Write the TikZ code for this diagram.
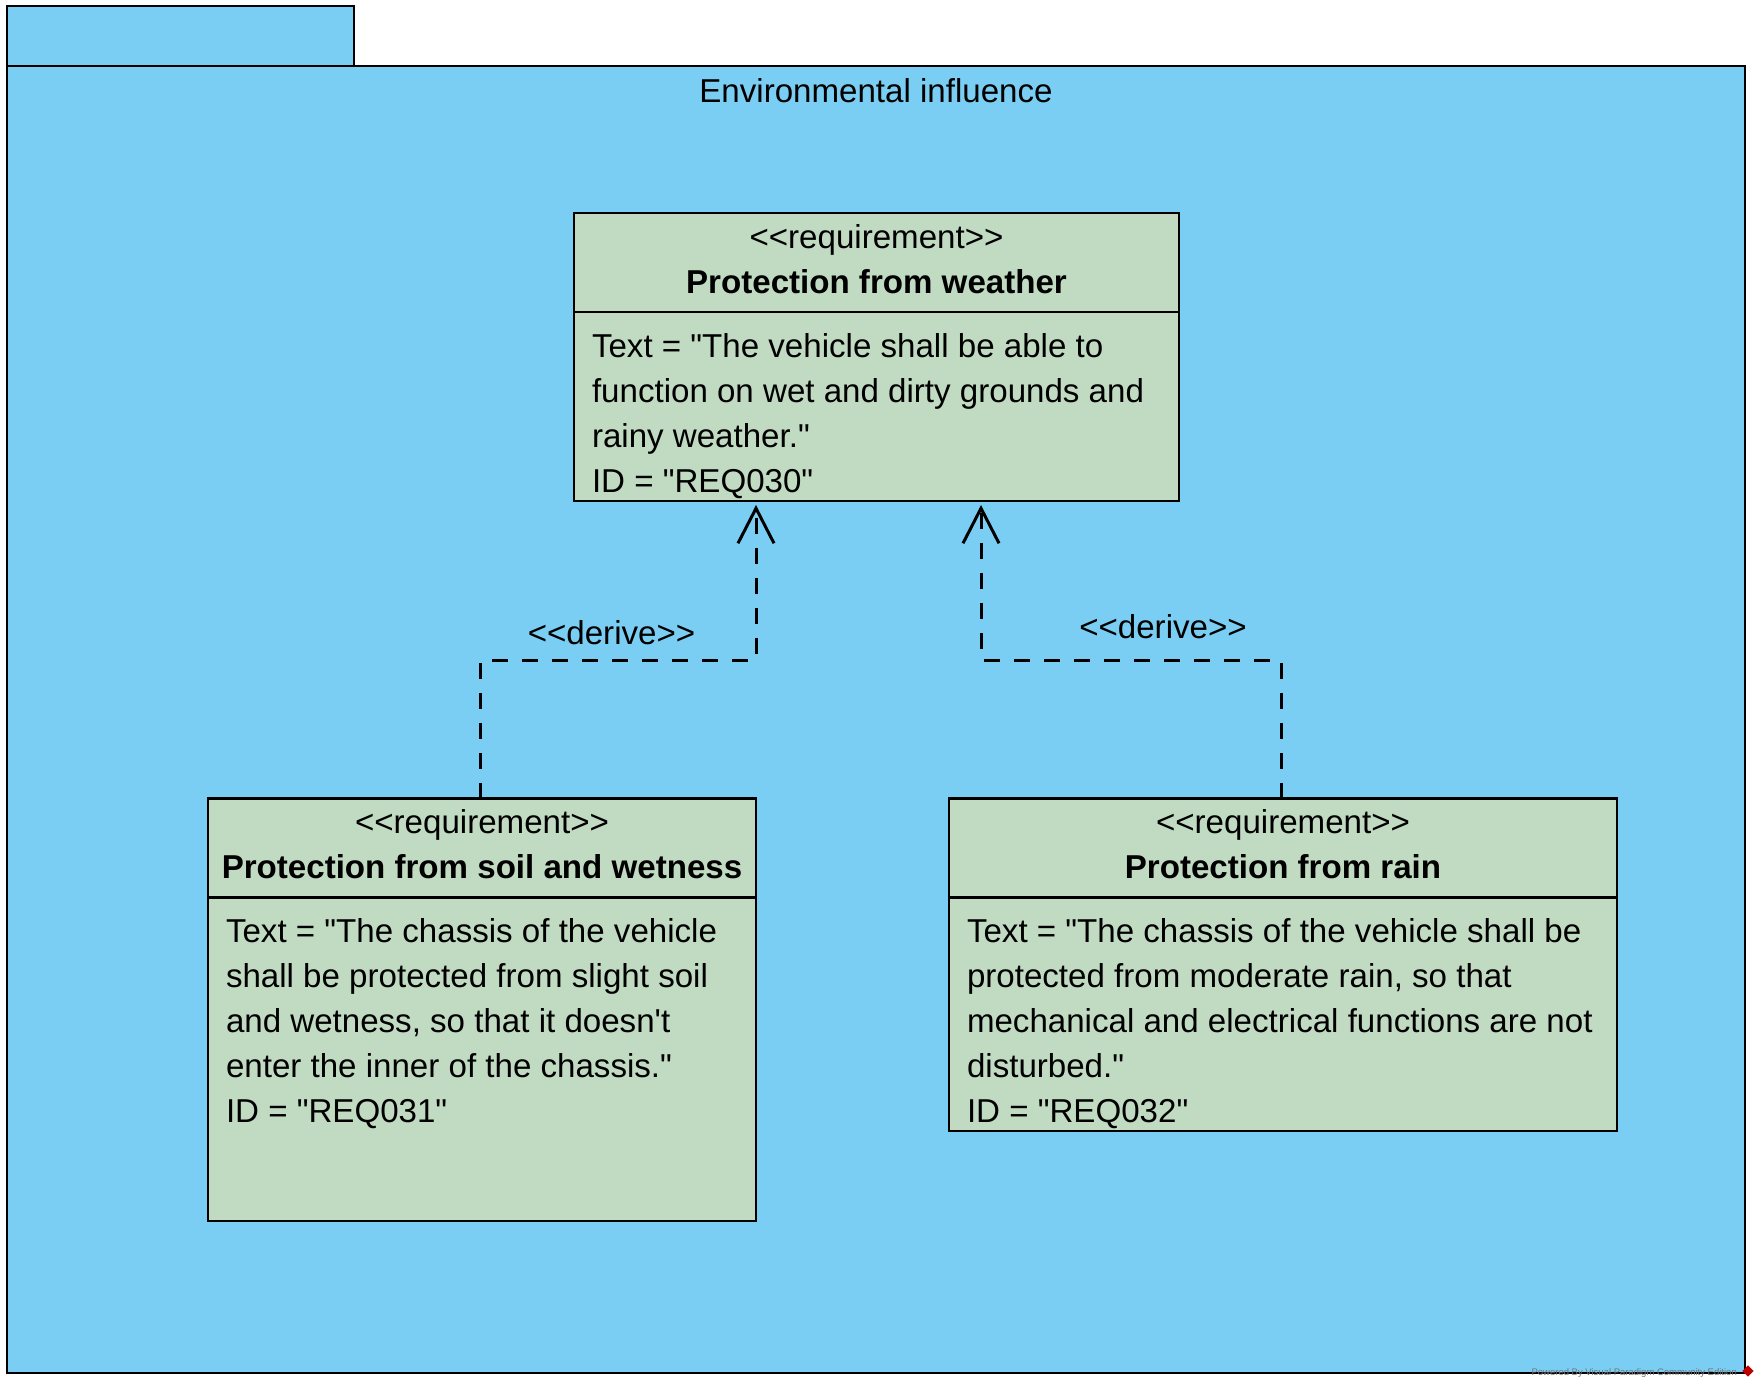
\documentclass[tikz,border=0pt]{standalone}
\usepackage{fontspec}
\setmainfont{Liberation Sans}[Ligatures=TeXOff]
\usetikzlibrary{arrows.meta}
\definecolor{pkgblue}{HTML}{7ACEF3}
\definecolor{reqgreen}{HTML}{C1DAC2}
\tikzset{
  pkgshape/.style={draw=black, fill=pkgblue, line width=2.8pt, outer sep=0pt, inner sep=0pt, anchor=north west},
  reqbox/.style={draw=black, fill=reqgreen, line width=2.8pt, outer sep=0pt, inner sep=0pt, anchor=north west},
  divider/.style={line width=2.8pt},
  txt/.style={inner sep=0pt, outer sep=0pt, anchor=base, font=\fontsize{33.1}{45}\selectfont},
  boldtxt/.style={txt, font=\fontsize{33.1}{45}\selectfont\bfseries},
  bodytxt/.style={txt, anchor=base west},
  derive/.style={line width=3pt, dash pattern=on 16pt off 14pt,
    -{Straight Barb[length=35pt, width=36pt, line width=3pt]}}
}
\begin{document}
\begin{tikzpicture}[x=1pt,y=-1pt]
\useasboundingbox (0,0) rectangle (1761,1389);
\fill[white] (0,0) rectangle (1761,1389);
% package
\node[pkgshape, minimum width=347pt, minimum height=60pt] (tab) at (7,6) {};
\node[pkgshape, minimum width=1738pt, minimum height=1307pt] (pkg) at (7,66) {};
\node[txt] (pkgtitle) at (876,102.5) {Environmental influence};

% top requirement
\node[reqbox, minimum width=605pt, minimum height=288pt] (top) at (574,213) {};
\draw[divider] (top.west |- 0,312) -- (top.east |- 0,312);
\node[txt] (topst) at (876.5,248) {<<requirement>>};
\node[boldtxt] (topname) at (876.5,293) {Protection from weather};
\node[bodytxt] (topbody) at (592,357) {\vtop{\hbox{Text = "The vehicle shall be able to}\hbox{function on wet and dirty grounds and}\hbox{rainy weather."}\hbox{ID = "REQ030"}}};

% left requirement
\node[reqbox, minimum width=548pt, minimum height=422.5pt] (left) at (208,798.5) {};
\draw[divider] (left.west |- 0,897.5) -- (left.east |- 0,897.5);
\node[txt] (leftst) at (482,833.5) {<<requirement>>};
\node[boldtxt] (leftname) at (482,878.5) {Protection from soil and wetness};
\node[bodytxt] (leftbody) at (226,942.5) {\vtop{\hbox{Text = "The chassis of the vehicle}\hbox{shall be protected from slight soil}\hbox{and wetness, so that it doesn't}\hbox{enter the inner of the chassis."}\hbox{ID = "REQ031"}}};

% right requirement
\node[reqbox, minimum width=668pt, minimum height=332.5pt] (right) at (949,798.5) {};
\draw[divider] (right.west |- 0,897.5) -- (right.east |- 0,897.5);
\node[txt] (rightst) at (1283,833.5) {<<requirement>>};
\node[boldtxt] (rightname) at (1283,878.5) {Protection from rain};
\node[bodytxt] (rightbody) at (967,942.5) {\vtop{\hbox{Text = "The chassis of the vehicle shall be}\hbox{protected from moderate rain, so that}\hbox{mechanical and electrical functions are not}\hbox{disturbed."}\hbox{ID = "REQ032"}}};

% derive connectors
\coordinate (tipL) at (756,505);
\coordinate (tipR) at (981,505);
\coordinate (startL) at (480.5,798.5);
\coordinate (startR) at (1281,798.5);
\draw[derive] (startL) -- (startL |- 0,660) -| (tipL);
\draw[derive] (startR) -- (startR |- 0,660) -| (tipR);
\node[txt] (lblL) at (611.5,644) {<<derive>>};
\node[txt] (lblR) at (1163,638) {<<derive>>};

% watermark
\node[inner sep=0pt, anchor=base east, text=black!55, font=\fontsize{9.5}{10}\selectfont] (wm) at (1737,1375) {Powered By Visual Paradigm Community Edition};
\node[fill=red!75!black, rotate=45, minimum size=8pt, inner sep=0pt] (logo) at (1748,1371) {};
\end{tikzpicture}
\end{document}
